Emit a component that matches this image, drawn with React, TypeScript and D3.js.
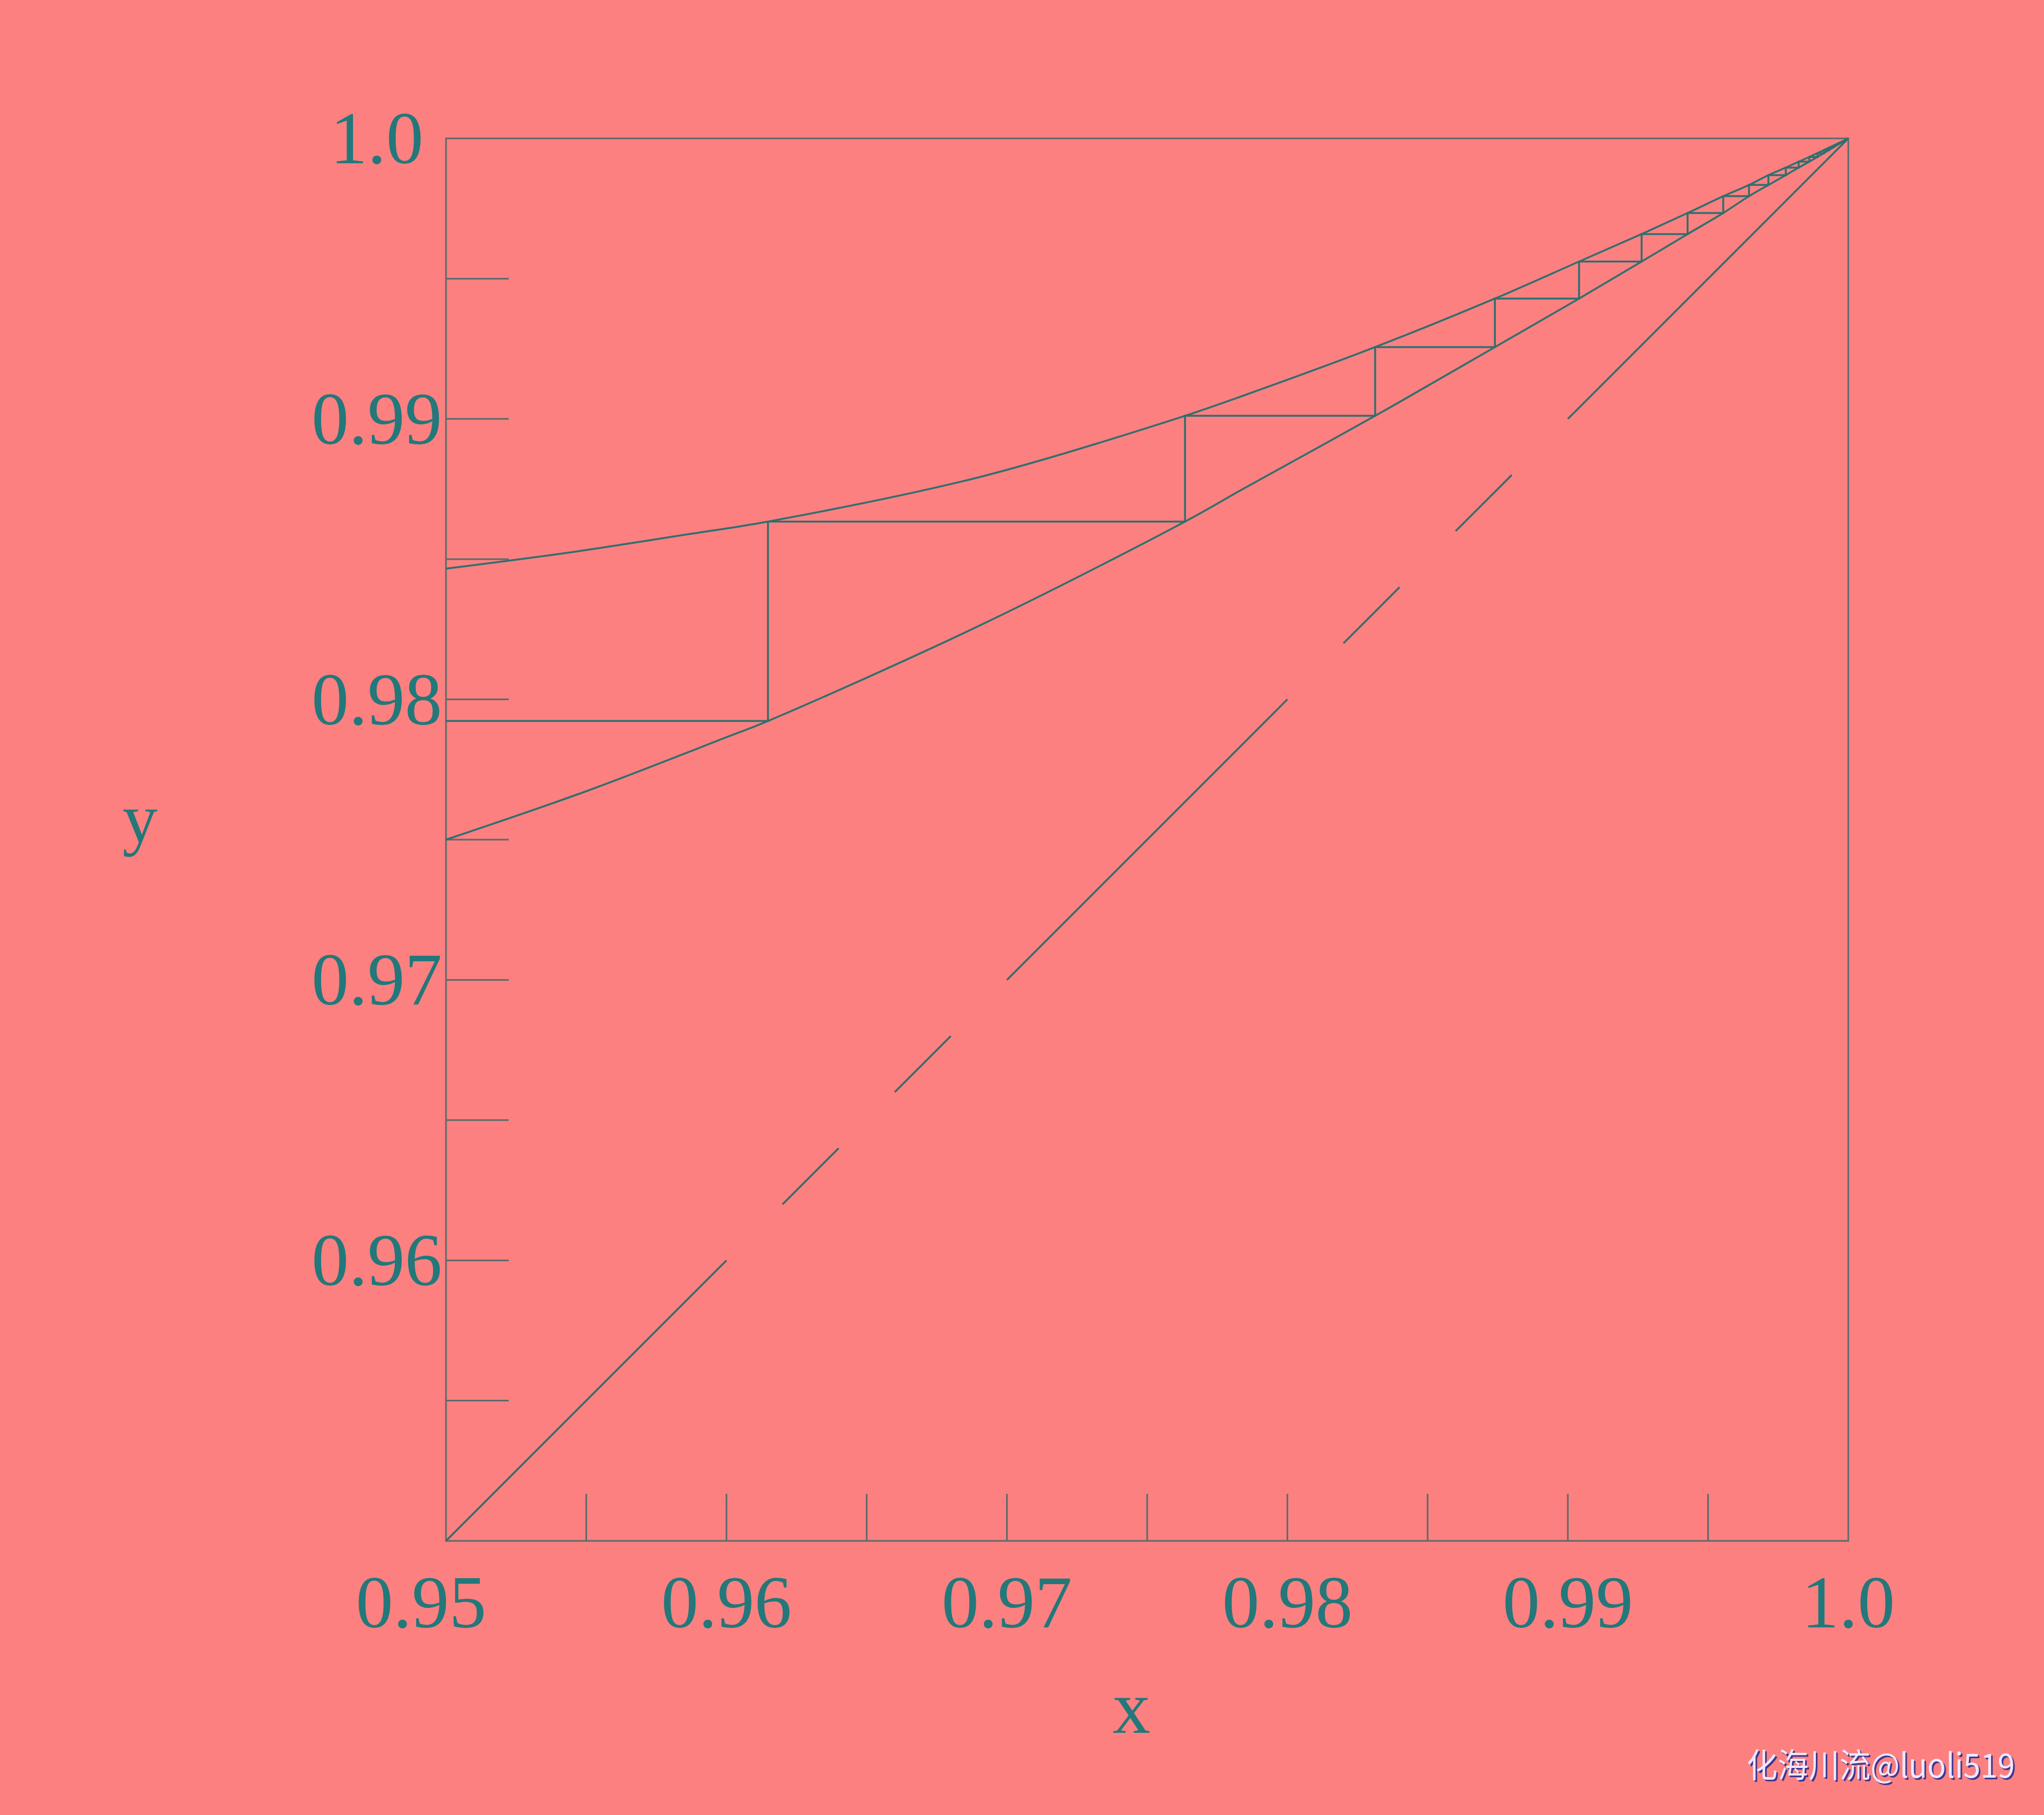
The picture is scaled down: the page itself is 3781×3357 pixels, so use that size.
import React from 'react';
import { scaleLinear, line, curveCatmullRom, curveLinear } from 'd3';

// upper curve (equilibrium-like)
const upperX = [0.95, 0.95428, 0.95877, 0.96148, 0.969, 0.97635, 0.97843, 0.98313, 0.9874, 0.9904, 0.99263, 0.99427, 0.99554, 0.99646, 0.99715, 0.99777, 0.99823, 0.99861, 1.0];
const upperY = [0.98466, 0.98522, 0.98591, 0.98634, 0.98792, 0.99011, 0.99083, 0.99256, 0.99429, 0.99561, 0.99659, 0.99734, 0.99794, 0.99834, 0.99869, 0.99896, 0.99917, 0.99934, 1.0];

// lower curve
const lowerX = [0.95, 0.95501, 0.96002, 0.96148, 0.969, 0.97635, 0.97843, 0.98313, 0.9874, 0.9904, 0.99263, 0.99427, 0.99554, 0.99646, 0.99715, 0.99777, 0.99823, 0.99861, 1.0];
const lowerY = [0.975, 0.97673, 0.97866, 0.97923, 0.98262, 0.98634, 0.98751, 0.99011, 0.99256, 0.99429, 0.99561, 0.99659, 0.99734, 0.99794, 0.99834, 0.99869, 0.99896, 0.99917, 1.0];

// staircase corners: vertical at stairX[i], levels stairY[i] -> stairY[i+1]
const stairX = [0.96148, 0.97635, 0.98313, 0.9874, 0.9904, 0.99263, 0.99427, 0.99554, 0.99646, 0.99715, 0.99777, 0.99823, 0.99861, 0.9989, 0.99913, 0.99931, 0.99946];
const stairY = [0.97923, 0.98634, 0.99011, 0.99256, 0.99429, 0.99561, 0.99659, 0.99734, 0.99794, 0.99834, 0.99869, 0.99896, 0.99917, 0.99934, 0.99947, 0.99958, 0.99967, 0.99974];

// pieces of the y = x diagonal that are drawn
const diagStart = [0.95, 0.962, 0.966, 0.97, 0.982, 0.986, 0.99];
const diagEnd = [0.96, 0.964, 0.968, 0.98, 0.984, 0.988, 1.0];

const tickValues = [0.955, 0.96, 0.965, 0.97, 0.975, 0.98, 0.985, 0.99, 0.995];
const xLabelValues = [0.95, 0.96, 0.97, 0.98, 0.99, 1.0];
const xLabelTexts = ['0.95', '0.96', '0.97', '0.98', '0.99', '1.0'];
const yLabelValues = [0.96, 0.97, 0.98, 0.99, 1.0];
const yLabelTexts = ['0.96', '0.97', '0.98', '0.99', '1.0'];

const W = 3781, H = 3357;
const margin = { top: 256, right: 362, bottom: 507, left: 825 };
const width = W - margin.left - margin.right;
const height = H - margin.top - margin.bottom;

const bg = '#fc8080';
const lineCol = '#2f6f6f';
const frameCol = '#5c6a6a';
const textCol = '#22787a';
const font = '"Liberation Serif", "DejaVu Serif", serif';
const wmFont = '"Noto Sans CJK SC", "Noto Sans", sans-serif';

export default function App() {
  const x = scaleLinear().domain([0.95, 1.0]).range([0, width]);
  const y = scaleLinear().domain([0.95, 1.0]).range([height, 0]);

  const curve = line<[number, number]>().x(d => x(d[0])).y(d => y(d[1])).curve(curveCatmullRom.alpha(0.5));
  const straight = line<[number, number]>().x(d => x(d[0])).y(d => y(d[1])).curve(curveLinear);

  const upperPts = upperX.map((v, i) => [v, upperY[i]] as [number, number]);
  const lowerPts = lowerX.map((v, i) => [v, lowerY[i]] as [number, number]);

  const stairPts: [number, number][] = [[0.95, stairY[0]]];
  stairX.forEach((sx, i) => {
    stairPts.push([sx, stairY[i]]);
    stairPts.push([sx, stairY[i + 1]]);
  });

  return (
    <svg width={W} height={H} style={{ position: 'absolute', left: 0, top: 0, display: 'block' }}>
      <rect width={W} height={H} fill={bg} />
      <g transform={`translate(${margin.left},${margin.top})`}>
        {/* frame */}
        <rect x={0} y={0} width={width} height={height} fill="none" stroke={frameCol} strokeWidth={3} />

        {/* ticks */}
        {tickValues.map(t => (
          <line key={'yt' + t} x1={0} x2={116} y1={y(t)} y2={y(t)} stroke={frameCol} strokeWidth={3} />
        ))}
        {tickValues.map(t => (
          <line key={'xt' + t} x1={x(t)} x2={x(t)} y1={height} y2={height - 87} stroke={frameCol} strokeWidth={3} />
        ))}

        {/* diagonal */}
        {diagStart.map((s, i) => (
          <line key={'d' + i} x1={x(s)} y1={y(s)} x2={x(diagEnd[i])} y2={y(diagEnd[i])} stroke={lineCol} strokeWidth={3.5} />
        ))}

        <path d={curve(upperPts) || ''} fill="none" stroke={lineCol} strokeWidth={3.5} />
        <path d={curve(lowerPts) || ''} fill="none" stroke={lineCol} strokeWidth={3.5} />
        <path d={straight(stairPts) || ''} fill="none" stroke={lineCol} strokeWidth={3.5} strokeLinejoin="miter" />

        {/* tick labels */}
        {yLabelValues.map((v, i) => (
          <text key={'yl' + v} x={-128} y={y(v) + 46} textAnchor="middle" fontFamily={font} fontSize={138} fill={textCol}>
            {yLabelTexts[i]}
          </text>
        ))}
        {xLabelValues.map((v, i) => (
          <text key={'xl' + v} x={x(v) + (i === 0 ? -46 : 0)} y={height + 160} textAnchor="middle" fontFamily={font} fontSize={138} fill={textCol}>
            {xLabelTexts[i]}
          </text>
        ))}
      </g>

      {/* axis titles */}
      <text x={2093} y={3205} textAnchor="middle" fontFamily={font} fontSize={140} fill={textCol}>x</text>
      <text x={259} y={1557} textAnchor="middle" fontFamily={font} fontSize={130} fill={textCol}>y</text>

      {/* watermark */}
      <text x={3234} y={3291} fontFamily={wmFont} fontSize={62} fill="#3f3590" textLength={496} lengthAdjust="spacingAndGlyphs">化海川流@luoli519</text>
      <text x={3231} y={3288} fontFamily={wmFont} fontSize={62} fill="#efe8fb" textLength={496} lengthAdjust="spacingAndGlyphs">化海川流@luoli519</text>
    </svg>
  );
}
